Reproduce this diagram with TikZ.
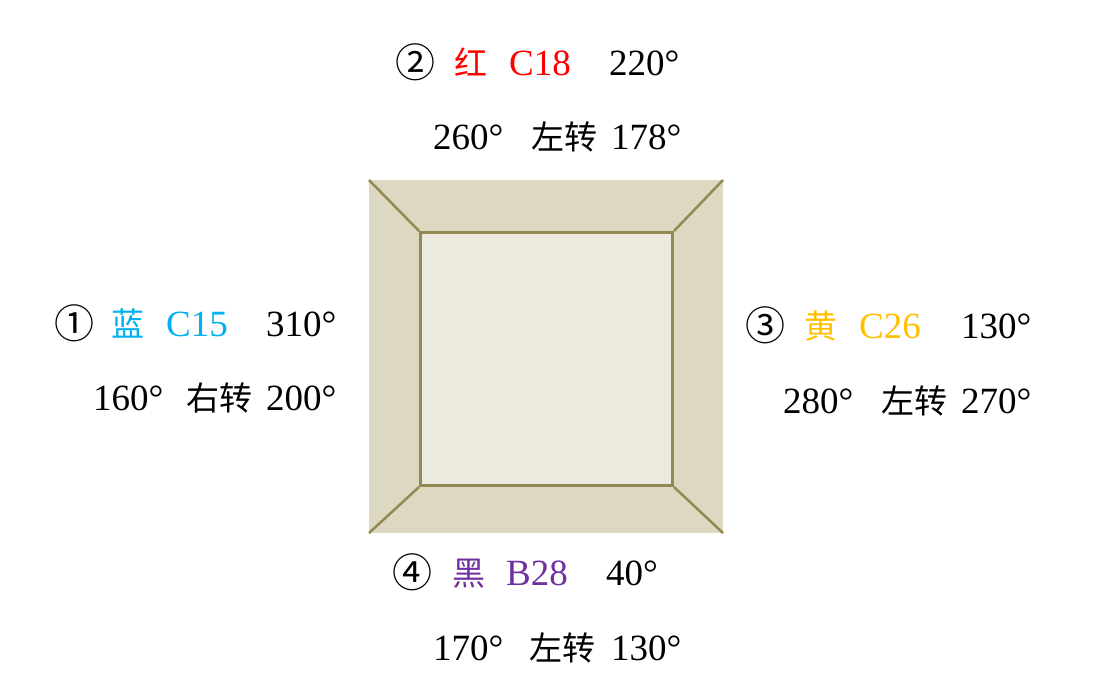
\documentclass[tikz,border=0pt]{standalone}
\usepackage{fontspec}
\setmainfont{Liberation Serif}
\newfontfamily\cjk{Noto Sans CJK SC}
\definecolor{framefill}{HTML}{DDD8C2}
\definecolor{innerfill}{HTML}{ECE9DE}
\definecolor{edge}{HTML}{938953}
\definecolor{cblue}{HTML}{00B0F0}
\definecolor{cred}{HTML}{FF0000}
\definecolor{cyellow}{HTML}{FFC000}
\definecolor{cpurple}{HTML}{7030A0}
\begin{document}
\begin{tikzpicture}[x=1pt,y=-1pt,
  txt/.style={anchor=base west,inner sep=0pt,font=\fontsize{37}{44}\selectfont},
  cj/.style={anchor=base west,inner sep=0pt,font=\fontsize{33}{40}\selectfont\cjk},
  circ/.style={anchor=base west,inner sep=0pt,font=\fontsize{40}{48}\selectfont\cjk},
  edgeline/.style={draw=edge,line width=2.5pt}]
\useasboundingbox (0,0) rectangle (1115,694);
% frame
\fill[framefill] (369,180) rectangle (723,533);
\coordinate (o1) at (369,180);
\coordinate (o2) at (723,180);
\coordinate (o3) at (723,533);
\coordinate (o4) at (369,533);
\node[draw=edge,line width=3pt,fill=innerfill,minimum width=252pt,minimum height=253pt,inner sep=0pt,anchor=north west] (inner) at (419,231) {};
\draw[edgeline] (o1) -- (inner.north west);
\draw[edgeline] (o2) -- (inner.north east);
\draw[edgeline] (o3) -- (inner.south east);
\draw[edgeline] (o4) -- (inner.south west);
% top (2)
\node[circ] (n2) at (395,77) {②};
\node[cj,text=cred] (c2) at (454,75) {红};
\node[txt,text=cred] (k2) at (509,75) {C18};
\node[txt] (a2) at (609,75) {220°};
\node[txt] (b2) at (433,149) {260°};
\node[cj] (t2) at (531,149) {左转};
\node[txt] (d2) at (611,149) {178°};
% left (1)
\node[circ] (n1) at (54,338) {①};
\node[cj,text=cblue] (c1) at (111,336) {蓝};
\node[txt,text=cblue] (k1) at (166,336) {C15};
\node[txt] (a1) at (266,336) {310°};
\node[txt] (b1) at (93,410) {160°};
\node[cj] (t1) at (186,410) {右转};
\node[txt] (d1) at (266,410) {200°};
% right (3)
\node[circ] (n3) at (745,340) {③};
\node[cj,text=cyellow] (c3) at (804,338) {黄};
\node[txt,text=cyellow] (k3) at (859,338) {C26};
\node[txt] (a3) at (961,338) {130°};
\node[txt] (b3) at (783,413) {280°};
\node[cj] (t3) at (881,413) {左转};
\node[txt] (d3) at (961,413) {270°};
% bottom (4)
\node[circ] (n4) at (392,587) {④};
\node[cj,text=cpurple] (c4) at (452,585) {黑};
\node[txt,text=cpurple] (k4) at (506,585) {B28};
\node[txt] (a4) at (606,585) {40°};
\node[txt] (b4) at (433,660) {170°};
\node[cj] (t4) at (529,660) {左转};
\node[txt] (d4) at (611,660) {130°};
\end{tikzpicture}
\end{document}
